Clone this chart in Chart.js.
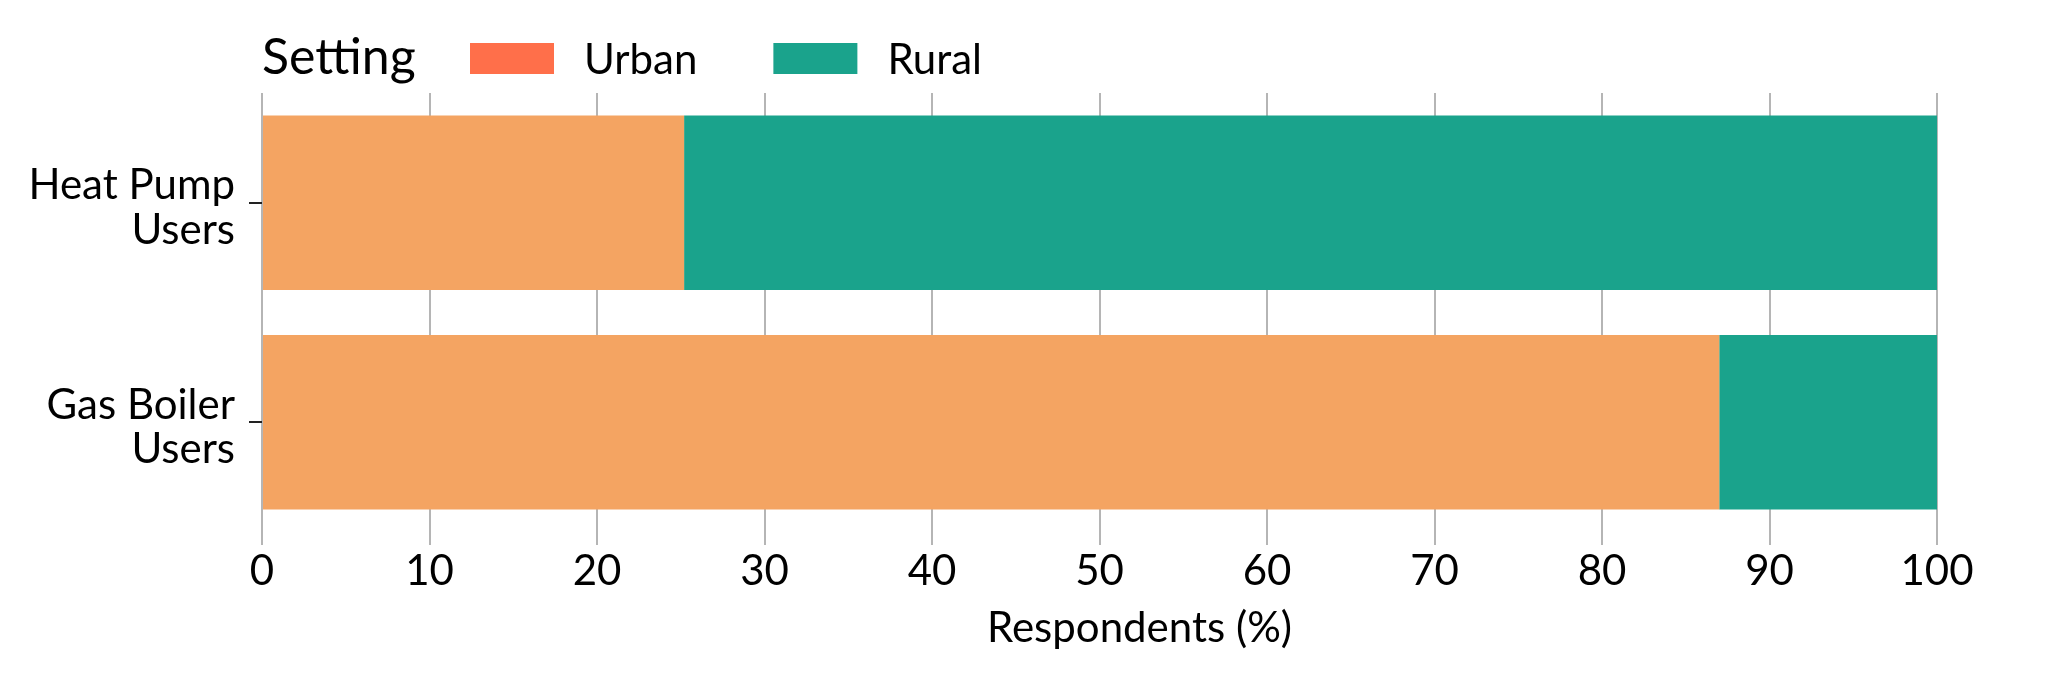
<!DOCTYPE html>
<html>
<head>
<meta charset="utf-8">
<script src="https://cdn.jsdelivr.net/npm/chart.js@4"></script>
<style>
  html, body { margin: 0; padding: 0; background: #fff; }
  canvas { display: block; }
</style>
</head>
<body>
<canvas id="chart" width="2048" height="677"></canvas>
<script>
const categories = [["Heat Pump", "Users"], ["Gas Boiler", "Users"]];
const urbanValues = [25.2, 87];
const ruralValues = [74.8, 13];
const seriesNames = ["Urban", "Rural"];
const barColors = ["#F4A462", "#1AA38C"];
const legendColors = ["#FF6F4A", "#1AA38C"];
const legendTitle = "Setting";
const axisTitle = "Respondents (%)";

const FONT = "Lato";

// legend drawn inline (title then swatches) and the x title, which sits a bit right of centre
const extraText = {
  id: "extraText",
  afterDraw(chart) {
    const ctx = chart.ctx;
    const area = chart.chartArea;
    ctx.save();
    ctx.fillStyle = "#000";
    ctx.textBaseline = "middle";
    ctx.textAlign = "left";
    ctx.font = `50px ${FONT}`;
    ctx.fillText(legendTitle, area.left, 58);

    ctx.font = `42px ${FONT}`;
    let x = 470;
    seriesNames.forEach((name, i) => {
      ctx.fillStyle = legendColors[i];
      ctx.fillRect(x, 43, 84, 31);
      x += 84 + 30;
      ctx.fillStyle = "#000";
      ctx.fillText(name, x, 60);
      x += ctx.measureText(name).width + 76;
    });

    ctx.textAlign = "center";
    ctx.fillText(axisTitle, (area.left + area.right) / 2 + 40, 628);
    ctx.restore();
  }
};

function draw() {
  const ctx = document.getElementById("chart").getContext("2d");
  new Chart(ctx, {
    type: "bar",
    data: {
      labels: categories,
      datasets: [
        { label: seriesNames[0], data: urbanValues, backgroundColor: barColors[0] },
        { label: seriesNames[1], data: ruralValues, backgroundColor: barColors[1] }
      ]
    },
    options: {
      indexAxis: "y",
      responsive: false,
      devicePixelRatio: 1,
      animation: false,
      barPercentage: 0.795,
      categoryPercentage: 1,
      layout: { padding: { top: 93, right: 111, bottom: 0, left: 0 } },
      plugins: {
        legend: { display: false },
        tooltip: { enabled: false }
      },
      scales: {
        x: {
          stacked: true,
          min: 0,
          max: 100,
          border: { display: false },
          grid: { color: "#b5b5b5", lineWidth: 2, tickLength: 13 },
          ticks: {
            stepSize: 10,
            padding: 1,
            color: "#000",
            font: { family: FONT, size: 42 }
          },
          afterFit(scale) { scale.height = 145; }
        },
        y: {
          stacked: true,
          border: { display: false },
          grid: { offset: false, drawOnChartArea: false, color: "#222", lineWidth: 2, tickLength: 13 },
          ticks: {
            padding: 14,
            labelOffset: 5,
            color: "#000",
            font: { family: FONT, size: 42, lineHeight: 1.06 }
          },
          afterFit(scale) { scale.width = 262; }
        }
      }
    },
    plugins: [extraText]
  });
}

document.fonts.load(`42px ${FONT}`).then(draw, draw);
</script>
</body>
</html>
